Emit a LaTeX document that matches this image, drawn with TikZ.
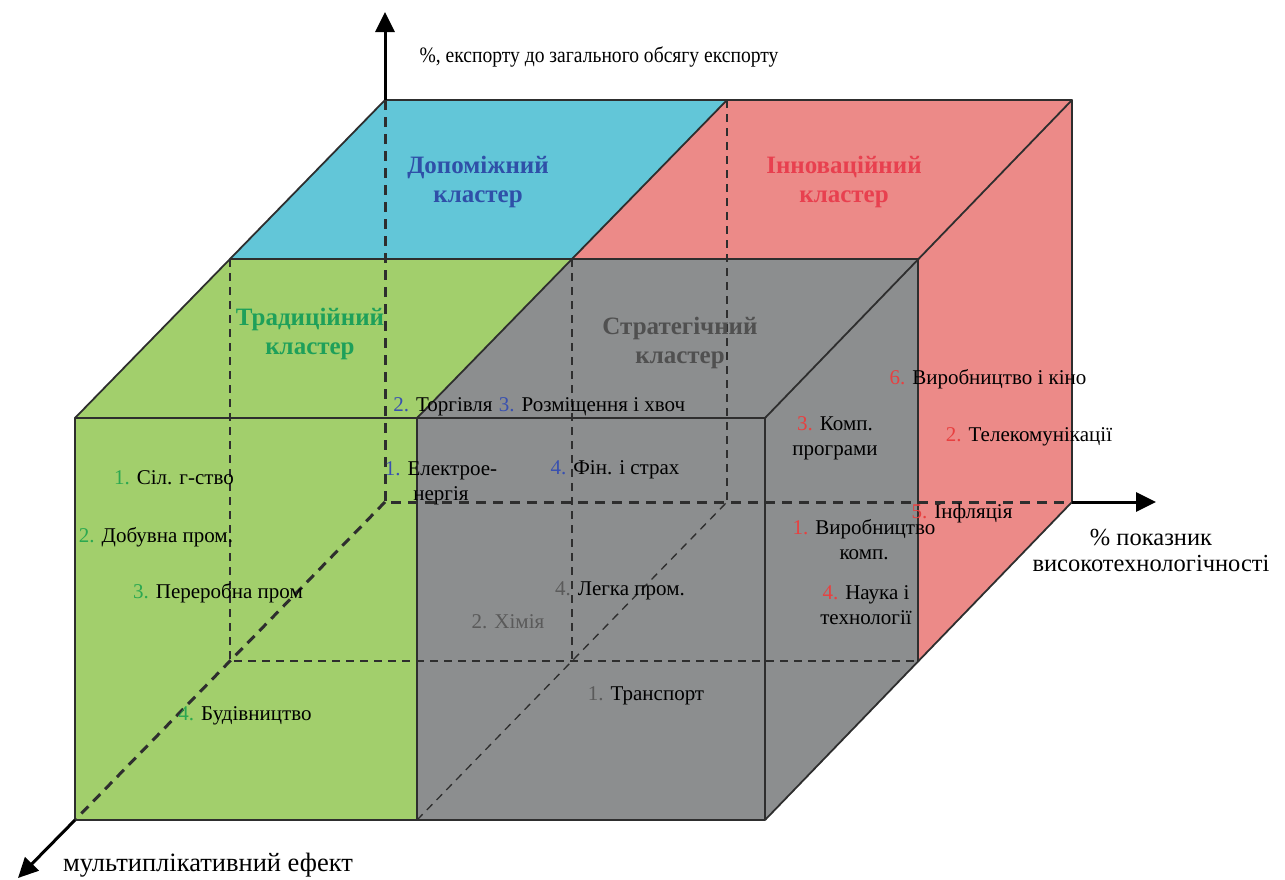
\documentclass[tikz,border=0pt]{standalone}
\usepackage{fontspec}
\setmainfont{Liberation Serif}
\newfontfamily\condfont[FakeStretch=0.89]{Liberation Serif}
\usetikzlibrary{arrows.meta}
\definecolor{fgreen}{HTML}{A2CF6C}
\definecolor{fblue}{HTML}{62C6D8}
\definecolor{fpink}{HTML}{EC8A88}
\definecolor{fgray}{HTML}{8C8E8F}
\definecolor{edge}{HTML}{2E2E2E}
\definecolor{lgreen}{HTML}{1EA05A}
\definecolor{lblue}{HTML}{2F50A8}
\definecolor{lred}{HTML}{E8404F}
\definecolor{lgray}{HTML}{505050}
\definecolor{ngreen}{HTML}{2BA850}
\definecolor{nblue}{HTML}{3850B0}
\definecolor{nred}{HTML}{E84040}
\definecolor{ngray}{HTML}{5A5A5A}
\begin{document}
\begin{tikzpicture}[x=1pt,y=-1pt,
  solidedge/.style={draw=edge,line width=1.8pt,line join=round},
  hidthick/.style={draw=edge,line width=3pt,dash pattern=on 10pt off 7pt},
  hidthin/.style={draw=edge,line width=1.3pt,dash pattern=on 8pt off 6pt},
  axisline/.style={draw=black,line width=3pt,-{Triangle[width=19pt,length=20pt]}},
  item/.style={font=\fontsize{21}{25}\selectfont,inner sep=0pt,align=center},
  clab/.style={font=\fontsize{25}{29}\selectfont\bfseries,inner sep=0pt,align=center},
  axlab/.style={font=\fontsize{24.5}{26}\selectfont,inner sep=0pt,align=center}]
\useasboundingbox (0,0) rectangle (1285,879);
% corners
\coordinate (A) at (75,418);
\coordinate (B) at (417,418);
\coordinate (C) at (765,418);
\coordinate (D) at (75,820);
\coordinate (E) at (417,820);
\coordinate (F) at (765,820);
\coordinate (G) at (230,259);
\coordinate (H) at (572,259);
\coordinate (I) at (918,259);
\coordinate (J) at (385,100);
\coordinate (K) at (727,100);
\coordinate (L) at (1072,100);
\coordinate (M) at (230,661);
\coordinate (N) at (572,661);
\coordinate (O) at (918,661);
\coordinate (P) at (385,502);
\coordinate (Q) at (727,502);
\coordinate (R) at (1072,502);
\coordinate (Zup) at (385,12);
\coordinate (Xend) at (1156,502);
\coordinate (Yend) at (18,878);
% fills
\fill[fgreen] (A) -- (G) -- (H) -- (B) -- (E) -- (D) -- cycle;
\fill[fgray] (B) -- (H) -- (I) -- (O) -- (F) -- (E) -- cycle;
\fill[fblue] (G) -- (J) -- (K) -- (H) -- cycle;
\fill[fpink] (H) -- (K) -- (L) -- (R) -- (O) -- (I) -- cycle;
% hidden edges
\draw[hidthin] (G) -- (M) -- (O);
\draw[hidthin] (H) -- (N);
\draw[hidthin] (K) -- (Q);
\draw[hidthin] (E) -- (Q);
\draw[hidthick] (J) -- (P) -- (R);
\draw[hidthick] (P) -- (D);
% visible edges
\draw[solidedge] (A) -- (C) -- (F) -- (D) -- cycle;
\draw[solidedge] (B) -- (E);
\draw[solidedge] (A) -- (J) -- (L) -- (C);
\draw[solidedge] (G) -- (I);
\draw[solidedge] (B) -- (K);
\draw[solidedge] (L) -- (R) -- (F);
\draw[solidedge] (I) -- (O);
% axes
\draw[axisline] (J) -- (Zup);
\draw[axisline] (R) -- (Xend);
\draw[axisline] (D) -- (Yend);
% axis labels
\node[inner sep=0pt,font=\condfont\fontsize{22}{24}\selectfont] (ylab) at (599,57) {\%, експорту до загального обсягу експорту};
\node[axlab] (xlab) at (1151,550) {\% показник\\високотехнологічності};
\node[inner sep=0pt,font=\fontsize{26.5}{28}\selectfont] (zlab) at (208,865) {мультиплікативний ефект};
% cluster labels
\node[clab,text=lblue] (cl1) at (478,182) {Допоміжний\\кластер};
\node[clab,text=lred] (cl2) at (844,182) {Інноваційний\\кластер};
\node[clab,text=lgreen] (cl3) at (310,334) {Традиційний\\кластер};
\node[clab,text=lgray] (cl4) at (680,343) {Стратегічний\\кластер};
% items
\node[item] (t1) at (174,478) {{\color{ngreen}1.} Сіл. г-ство};
\node[item] (t2) at (156,537) {{\color{ngreen}2.} Добувна пром.};
\node[item] (t3) at (218,593) {{\color{ngreen}3.} Переробна пром};
\node[item] (t4) at (245,716) {{\color{ngreen}4.} Будівництво};
\node[item] (s1) at (443,407) {{\color{nblue}2.} Торгівля};
\node[item] (s2) at (592,407) {{\color{nblue}3.} Розміщення і хвоч};
\node[item] (s3) at (441,483) {{\color{nblue}1.} Електрое-\\нергія};
\node[item] (s4) at (615,470) {{\color{nblue}4.} Фін. і страх};
\node[item,text=ngray] (g1) at (508,622) {2. Хімія};
\node[item] (g2) at (620,591) {{\color{ngray}4.} Легка пром.};
\node[item] (g3) at (646,696) {{\color{ngray}1.} Транспорт};
\node[item] (r1) at (835,438) {{\color{nred}3.} Комп.\\програми};
\node[item] (r2) at (864,540) {{\color{nred}1.} Виробництво\\комп.};
\node[item] (r3) at (866,605) {{\color{nred}4.} Наука і\\технології};
\node[item] (p1) at (988,379) {{\color{nred}6.} Виробництво і кіно};
\node[item] (p2) at (1029,437) {{\color{nred}2.} Телекомунікації};
\node[item] (p3) at (962,513) {{\color{nred}5.} Інфляція};
\end{tikzpicture}
\end{document}
